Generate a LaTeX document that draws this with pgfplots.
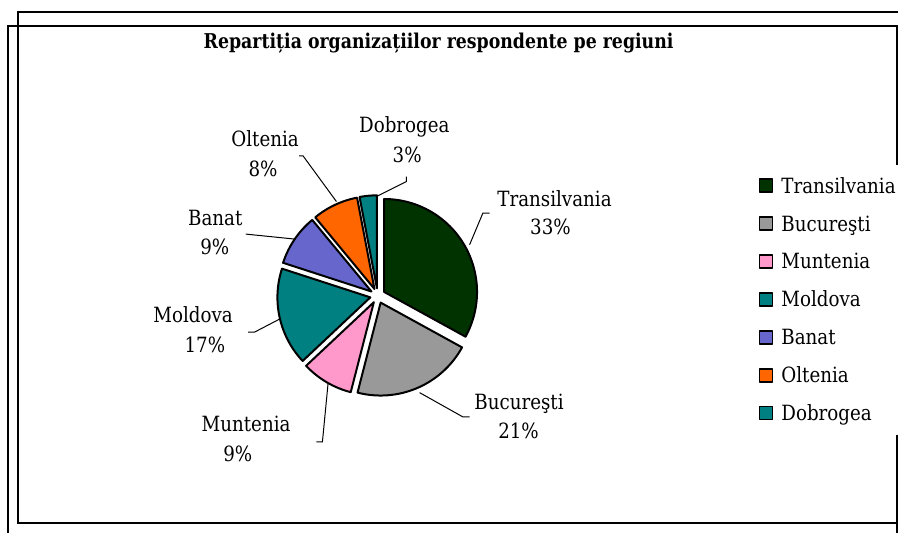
\documentclass[border=0pt]{standalone}
\usepackage{fontspec}
\setmainfont{DejaVu Serif}[FakeStretch=0.87]
\newfontfamily\titlefont{DejaVu Serif}[FakeStretch=0.85]
\usepackage{pgfplots}
\pgfplotsset{compat=1.18}

\definecolor{cTrans}{HTML}{003300}
\definecolor{cBuc}{HTML}{999999}
\definecolor{cMunt}{HTML}{FF99CC}
\definecolor{cMold}{HTML}{008080}
\definecolor{cBanat}{HTML}{6666CC}
\definecolor{cOlt}{HTML}{FF6600}
\definecolor{cDob}{HTML}{008080}

% pie geometry (pixels of the reference)
\def\cx{378}\def\cy{296}\def\rr{93}\def\ex{7.5}

% #1 cumulative start (%), #2 value (%), #3 colour, #4 name
\newcommand{\pieslice}[4]{%
  \pgfmathsetmacro{\ta}{3.6*#1}%
  \pgfmathsetmacro{\tb}{3.6*(#1+#2)}%
  \pgfmathsetmacro{\tm}{3.6*(#1+#2/2)}%
  \pgfmathsetmacro{\ax}{\cx+\ex*sin(\tm)}%
  \pgfmathsetmacro{\ay}{\cy-\ex*cos(\tm)}%
  \edef\doslice{\noexpand\addplot[fill=#3, draw=black, line width=1pt, line join=round,
    domain=\ta:\tb, samples=80, variable=\noexpand\t]
    ({\ax+\rr*sin(\noexpand\t)},{\ay-\rr*cos(\noexpand\t)}) -- (axis cs:\ax,\ay) -- cycle;}%
  \doslice
  \addlegendentry{#4}%
}

\begin{document}
\begin{tikzpicture}
\begin{axis}[
  scale only axis, width=449.5pt, height=266.5pt,
  xmin=0, xmax=899, ymin=0, ymax=533, y dir=reverse,
  hide axis, clip=false,
  legend style={at={(axis cs:759.3,167)}, anchor=north west, draw=none, fill=none,
    inner sep=0pt, outer sep=0pt, font=\fontsize{10.5}{12}\selectfont,
    row sep=0pt, column sep=4pt,
    nodes={inner sep=0pt, text height=13.2pt, text depth=5.75pt}},
  legend cell align=left,
  legend image code/.code={\draw[#1, draw=black, line width=0.9pt] (0pt,-3.25pt) rectangle (6.5pt,3.25pt);},
]
\path (axis cs:0,0) rectangle (axis cs:899,533);
% frame
\draw[line width=0.8pt] (axis cs:899,12) -- (axis cs:18,12) -- (axis cs:18,523.5) -- (axis cs:899,523.5);
\draw[line width=0.8pt] (axis cs:8,533) -- (axis cs:8,26) -- (axis cs:898,26) -- (axis cs:898,165);
\draw[line width=0.8pt] (axis cs:898,435) -- (axis cs:898,533);

% slices: start, value
\pieslice{0}{33}{cTrans}{Transilvania}
\pieslice{33}{21}{cBuc}{Bucureşti}
\pieslice{54}{9}{cMunt}{Muntenia}
\pieslice{63}{17}{cMold}{Moldova}
\pieslice{80}{9}{cBanat}{Banat}
\pieslice{89}{8}{cOlt}{Oltenia}
\pieslice{97}{3}{cDob}{Dobrogea}

% title
\node[anchor=base, font=\titlefont\bfseries\fontsize{10.2}{12}\selectfont] at (axis cs:439,48.5) {Repartiția organizațiilor respondente pe regiuni};

% leader lines
\draw[line width=0.5pt] (axis cs:470,245) -- (axis cs:483.3,213.3) -- (axis cs:490,213.3);
\draw[line width=0.5pt] (axis cs:420,393) -- (axis cs:463.3,417.3) -- (axis cs:470,417.3);
\draw[line width=0.5pt] (axis cs:328.3,384.3) -- (axis cs:322.7,442.3) -- (axis cs:316.7,442.3);
\draw[line width=0.5pt] (axis cs:280,319.3) -- (axis cs:255,332.3) -- (axis cs:248.3,332.3);
\draw[line width=0.5pt] (axis cs:295,239.3) -- (axis cs:246,234.3);
\draw[line width=0.5pt] (axis cs:336.7,201.7) -- (axis cs:303.3,156) -- (axis cs:299.3,156);
\draw[line width=0.5pt] (axis cs:376.7,196.7) -- (axis cs:406.7,181.7) -- (axis cs:406.7,176.7);

% data labels
\begin{scope}[every node/.style={anchor=base, font=\fontsize{10.5}{12}\selectfont, inner sep=0pt}]
\node at (axis cs:555,206.5) {Transilvania};
\node at (axis cs:551,235) {33\%};
\node at (axis cs:519.5,410) {Bucureşti};
\node at (axis cs:519,438.5) {21\%};
\node at (axis cs:246.3,431.5) {Muntenia};
\node at (axis cs:238,462) {9\%};
\node at (axis cs:193.3,323) {Moldova};
\node at (axis cs:205,353) {17\%};
\node at (axis cs:215.5,225.5) {Banat};
\node at (axis cs:215,254.5) {9\%};
\node at (axis cs:265.3,146.5) {Oltenia};
\node at (axis cs:263.3,176.5) {8\%};
\node at (axis cs:404.7,133) {Dobrogea};
\node at (axis cs:407.5,163) {3\%};
\end{scope}
\end{axis}
\end{tikzpicture}
\end{document}
